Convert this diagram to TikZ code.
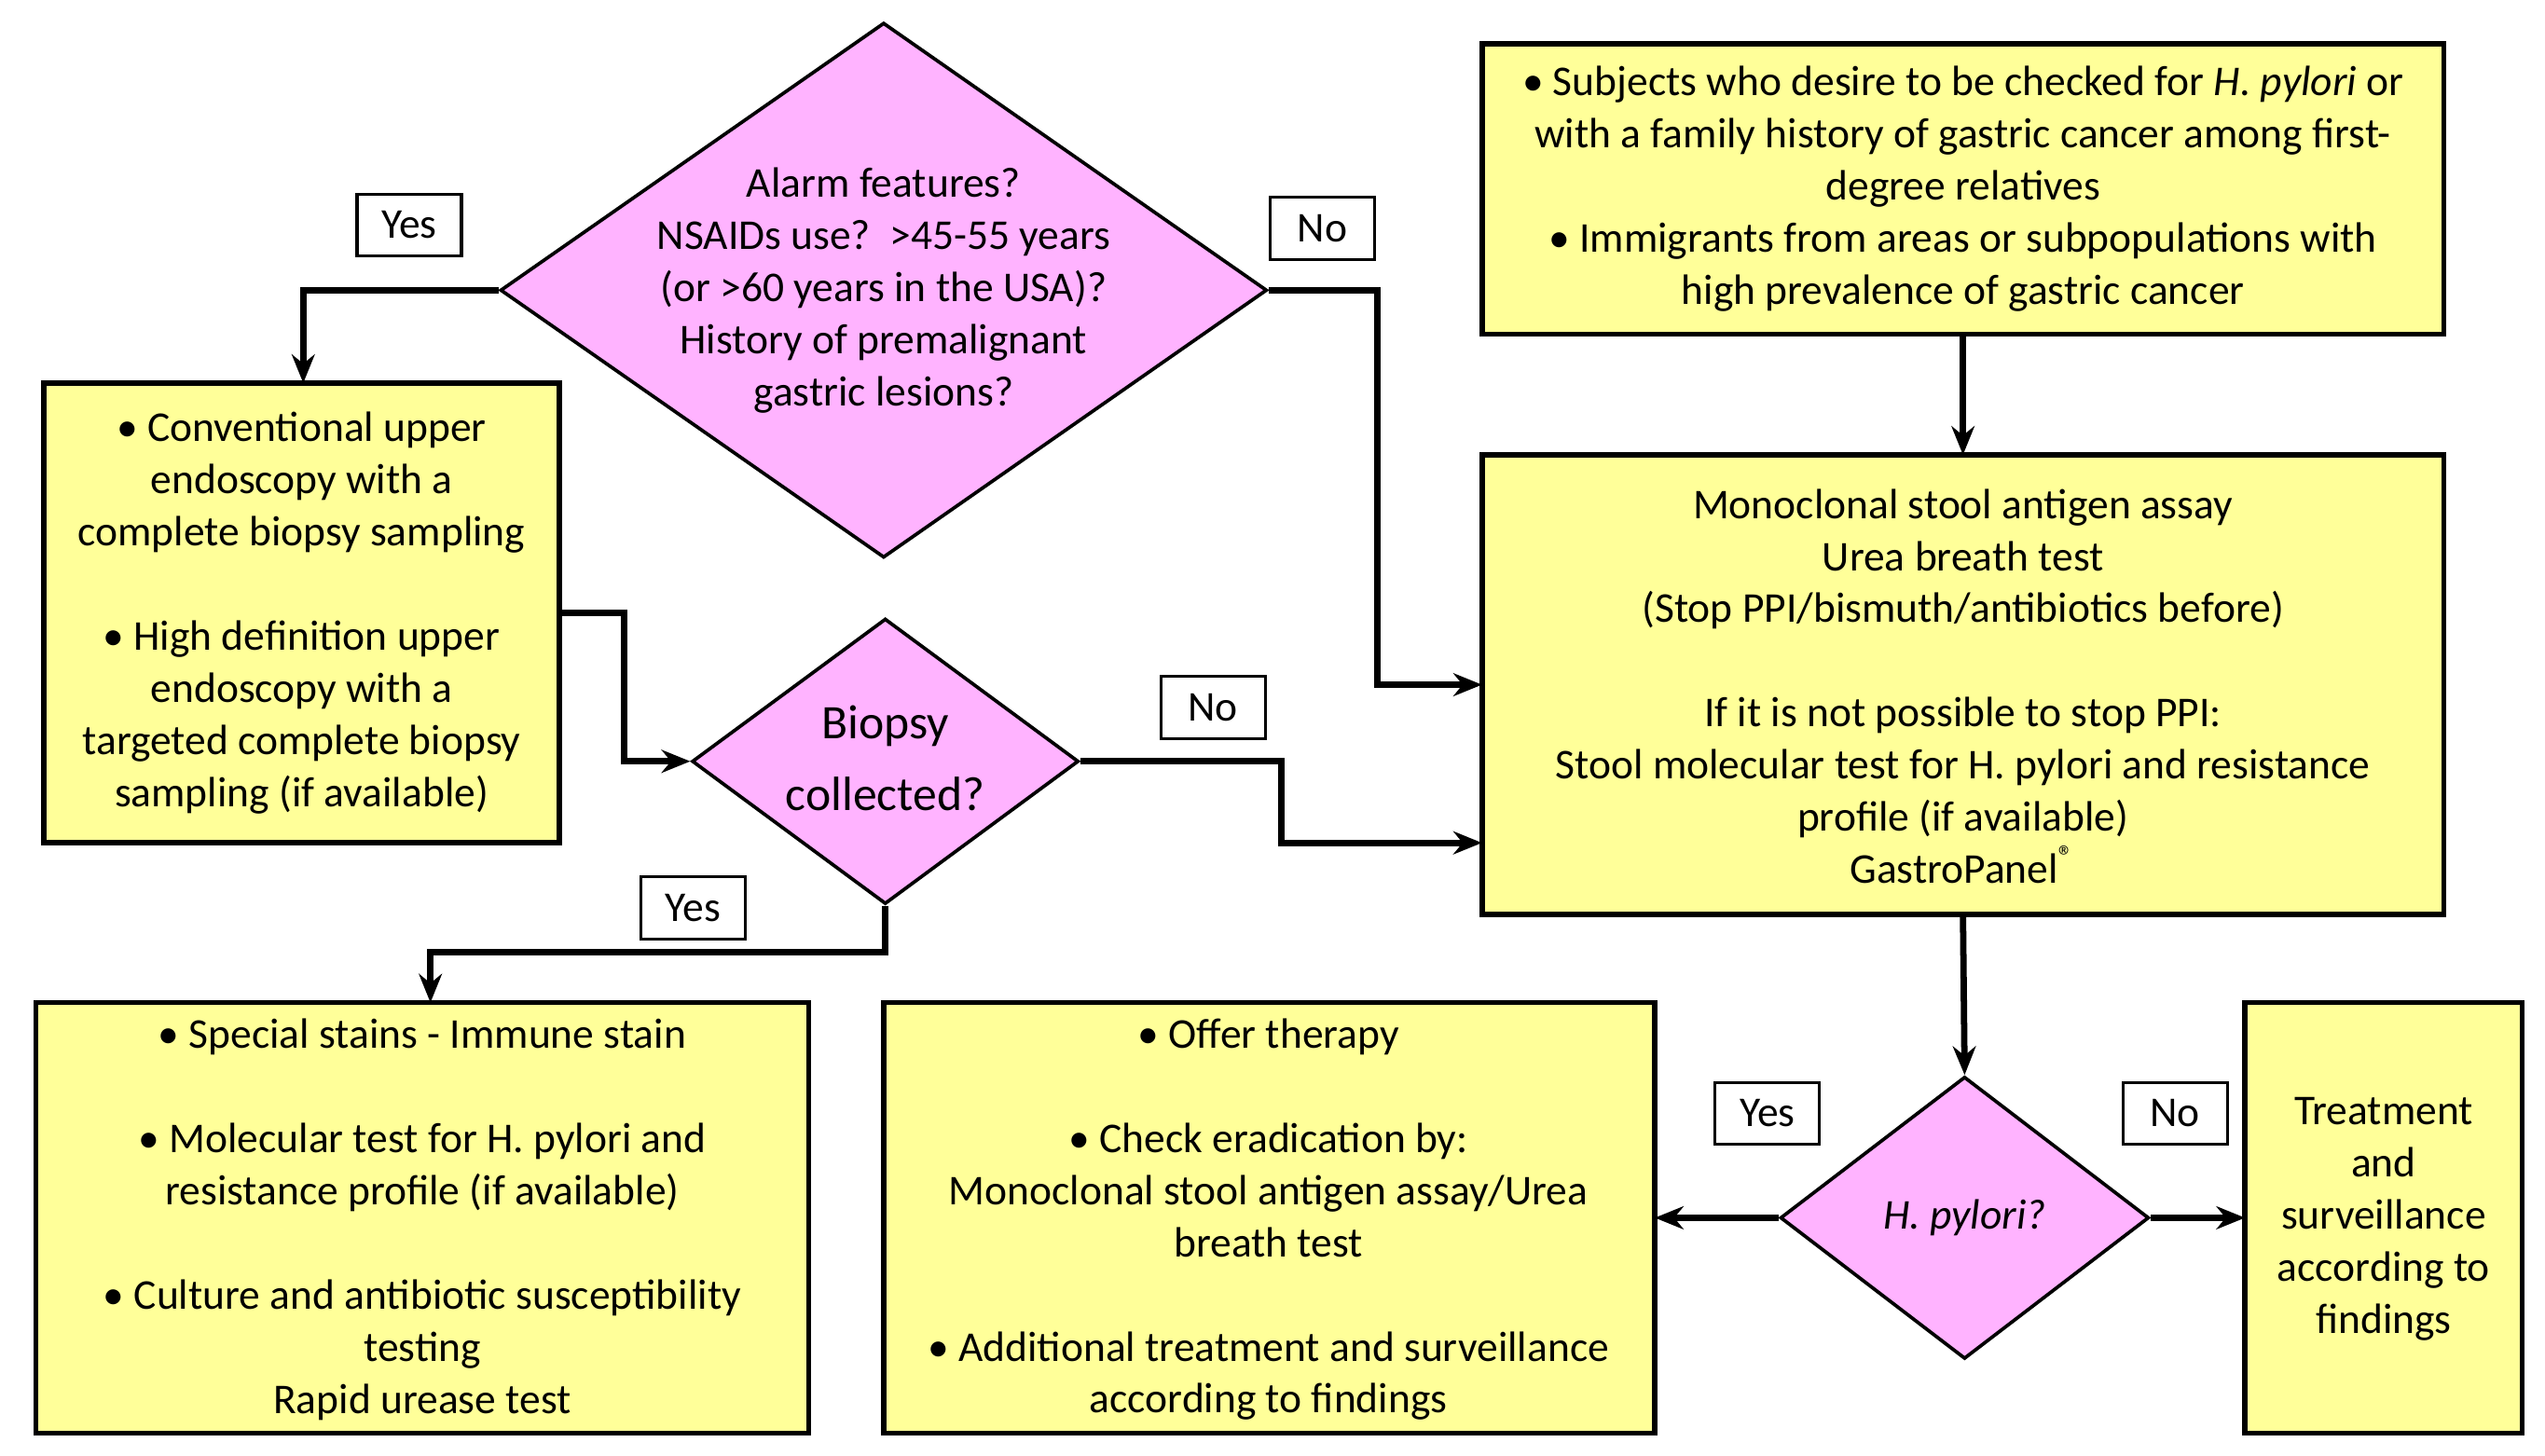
\documentclass[tikz,border=0pt]{standalone}
\usepackage{fontspec}
\setmainfont{Carlito}
\usetikzlibrary{shapes.geometric,arrows.meta}
\definecolor{yel}{HTML}{FFFF99}
\definecolor{pnk}{HTML}{FFB3FF}
\begin{document}
\begin{tikzpicture}[x=0.01cm,y=-0.01cm,
  box/.style={draw=black,line width=0.9pt,fill=yel},
  dia/.style={diamond,draw=black,line width=0.6pt,fill=pnk,inner sep=0pt},
  txt/.style={align=center,font=\fontsize{7.4}{9.1}\selectfont,inner sep=0pt},
  lab/.style={draw=black,line width=0.5pt,fill=white,font=\fontsize{7.4}{9}\selectfont,minimum width=0.64cm,minimum height=0.38cm,inner sep=0pt},
  arr/.style={line width=1.1pt,-{Stealth[length=5pt,width=4pt]}}]
\useasboundingbox (0,0) rectangle (1561,893);
% diamonds
\node[dia,minimum width=4.7cm,minimum height=3.28cm] (d1) at (542,178) {};
\node[txt] at (542,178) {Alarm features?\\NSAIDs use?\ \ >45-55 years\\(or >60 years in the USA)?\\History of premalignant\\gastric lesions?};
\node[dia,minimum width=2.37cm,minimum height=1.75cm] (d2) at (543,467) {};
\node[txt,font=\fontsize{8.4}{12.5}\selectfont] at (543,465) {Biopsy\\collected?};
\node[dia,minimum width=2.26cm,minimum height=1.73cm] (d3) at (1205,747) {};
\node[txt] at (1205,747) {\itshape H. pylori?};
% boxes
\draw[box] (27,235) rectangle (343,517);
\coordinate (lb) at (185,376);
\node[txt] at (185,376) {\textbullet\ Conventional upper\\endoscopy with a\\complete biopsy sampling\\[9.1pt]\textbullet\ High definition upper\\endoscopy with a\\targeted complete biopsy\\sampling (if available)};
\draw[box] (909,27) rectangle (1499,205);
\node[txt] (tb) at (1204,116) {\textbullet\ Subjects who desire to be checked for \textit{H. pylori} or\\with a family history of gastric cancer among first-\\degree relatives\\\textbullet\ Immigrants from areas or subpopulations with\\high prevalence of gastric cancer};
\draw[box] (909,279) rectangle (1499,561);
\node[txt] at (1204,421) {Monoclonal stool antigen assay\\Urea breath test\\(Stop PPI/bismuth/antibiotics before)\\[9.1pt]If it is not possible to stop PPI:\\Stool molecular test for H. pylori and resistance\\profile (if available)\\GastroPanel\textsuperscript{®}};
\draw[box] (22,615) rectangle (496,879);
\node[txt] at (259,748) {\textbullet\ Special stains - Immune stain\\[9.1pt]\textbullet\ Molecular test for H. pylori and\\resistance profile (if available)\\[9.1pt]\textbullet\ Culture and antibiotic susceptibility\\testing\\Rapid urease test};
\draw[box] (542,615) rectangle (1015,879);
\node[txt] at (778,748) {\textbullet\ Offer therapy\\[9.1pt]\textbullet\ Check eradication by:\\Monoclonal stool antigen assay/Urea\\breath test\\[9.1pt]\textbullet\ Additional treatment and surveillance\\according to findings};
\draw[box] (1377,615) rectangle (1547,879);
\node[txt] at (1462,748) {Treatment\\and\\surveillance\\according to\\findings};
% named anchors
\coordinate (lbT) at (186,235); \coordinate (lbR) at (343,376);
\coordinate (tbB) at (1204,205); \coordinate (mbT) at (1204,279); \coordinate (mbB) at (1204,561);
\coordinate (mbL1) at (909,420); \coordinate (mbL2) at (909,517);
\coordinate (bl) at (264,615); \coordinate (bm) at (1015,747); \coordinate (br) at (1377,747);
% connectors
\draw[arr] (d1.west) -- (186,178) -- (lbT);
\draw[arr] (d1.east) -- (845,178) -- (845,420) -- (mbL1);
\draw[arr] (lbR) -- (383,376) -- (383,467) -- (d2.west);
\draw[arr] (d2.east) -- (786,467) -- (786,517) -- (mbL2);
\draw[arr] (d2.south) -- (543,584) -- (264,584) -- (bl);
\draw[arr] (tbB) -- (mbT);
\draw[arr] (mbB) -- (d3.north);
\draw[arr] (d3.west) -- (bm);
\draw[arr] (d3.east) -- (br);
% labels
\node[lab] at (251,138) {Yes};
\node[lab] at (811,140) {No};
\node[lab] at (744,434) {No};
\node[lab] at (425,557) {Yes};
\node[lab] at (1084,683) {Yes};
\node[lab] at (1334,683) {No};
\end{tikzpicture}
\end{document}
